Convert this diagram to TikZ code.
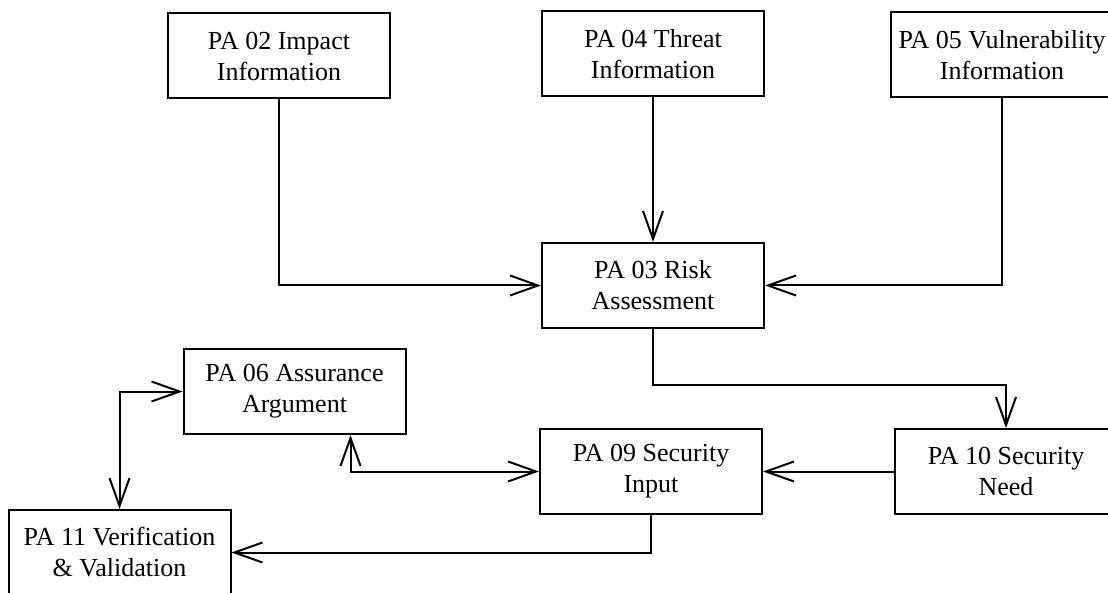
\documentclass[tikz,border=0pt]{standalone}
\usepackage{fontspec}
\setmainfont{Liberation Serif}
\newfontfamily\tnr{Liberation Serif}
\usetikzlibrary{arrows.meta,calc}
\begin{document}
\begin{tikzpicture}[x=1pt,y=-1pt,
  pabox/.style={draw, line width=2pt, minimum width=222pt, minimum height=85pt,
    inner sep=0pt, align=center, font={\tnr\fontsize{26}{31}\selectfont}},
  conn/.style={line width=2pt, -{Straight Barb[length=28pt,width=20pt]}},
  bconn/.style={line width=2pt, {Straight Barb[length=28pt,width=20pt]}-{Straight Barb[length=28pt,width=20pt]}}]
\useasboundingbox (0,0) rectangle (1108,593);
\clip (0,0) rectangle (1108,593);
\fill[white] (0,0) rectangle (1108,593);

\node[pabox] (pa02) at (279,56) {PA 02 Impact\\Information};
\node[pabox] (pa04) at (653,54) {PA 04 Threat\\Information};
\node[pabox] (pa05) at (1002,55) {PA 05 Vulnerability\\Information};
\node[pabox] (pa03) at (653,285.5) {PA 03 Risk\\Assessment};
\node[pabox] (pa06) at (294.5,391.5) {PA 06 Assurance\\Argument};
\node[pabox] (pa09) at (651,471.5) {PA 09 Security\\Input};
\node[pabox] (pa10) at (1006,471.5) {PA 10 Security\\Need};
\node[pabox] (pa11) at (119.5,552.5) {PA 11 Verification\\\& Validation};

\coordinate (j1) at (0,385);
\coordinate (j2) at ($(pa06.south)!0.5!(pa06.south east)$);

\draw[conn] (pa02.south) |- (pa03.west);
\draw[conn] (pa04.south) -- (pa03.north);
\draw[conn] (pa05.south) |- (pa03.east);
\draw[conn] (pa03.south) -- (pa03.south |- j1) -| (pa10.north);
\draw[conn] (pa10.west) -- (pa09.east);
\draw[bconn] (j2) |- (pa09.west);
\draw[bconn] (pa06.west) -| (pa11.north);
\draw[conn] (pa09.south) |- (pa11.east);
\end{tikzpicture}
\end{document}
